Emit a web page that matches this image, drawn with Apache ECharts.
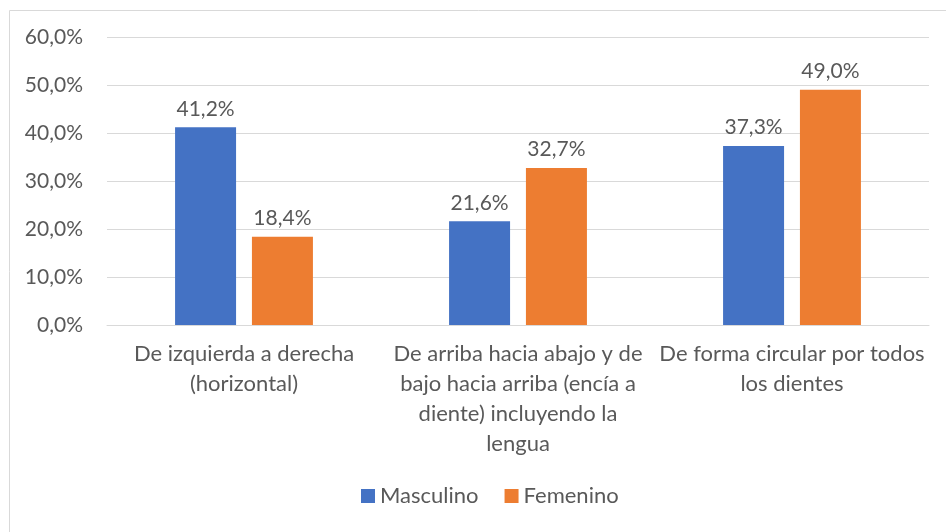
<!DOCTYPE html>
<html>
<head>
<meta charset="utf-8">
<script src="https://cdn.jsdelivr.net/npm/echarts@6/dist/echarts.min.js"></script>
<style>
  html, body { margin: 0; padding: 0; background: #fff; }
  #chart { width: 946px; height: 532px; }
</style>
</head>
<body>
<div id="chart"></div>
<script>
// categorias del eje x
var categories = [
  'De izquierda a derecha\n(horizontal)',
  'De arriba hacia abajo y de\nbajo hacia arriba (encía a\ndiente) incluyendo la\nlengua',
  'De forma circular por todos\nlos dientes'
]
var seriesNames = ['Masculino', 'Femenino']
var masculino = [41.2, 21.6, 37.3]
var femenino = [18.4, 32.7, 49.0]
var yTicks = [0, 10, 20, 30, 40, 50, 60]

var fontFamily = 'Lato, "Open Sans", sans-serif'
var textColor = '#595959'

function pct(v) {
  return v.toFixed(1).replace('.', ',') + '%'
}

var chart = echarts.init(document.getElementById('chart'))
chart.setOption({
  animation: false,
  textStyle: { fontFamily: fontFamily },
  graphic: [{
    type: 'rect',
    left: 7,
    top: 8,
    shape: { width: 960, height: 522 },
    style: { fill: 'none', stroke: '#d9d9d9', lineWidth: 1 },
    silent: true
  }],
  grid: {
    left: 107,
    right: 17,
    top: 37,
    bottom: 207
  },
  legend: {
    data: seriesNames,
    bottom: 20,
    left: 356,
    itemWidth: 14,
    itemHeight: 14,
    itemGap: 26,
    icon: 'rect',
    textStyle: { color: textColor, fontSize: 22, fontFamily: fontFamily }
  },
  xAxis: {
    type: 'category',
    data: categories,
    axisTick: { show: false },
    axisLine: { lineStyle: { color: '#d9d9d9', width: 1 } },
    axisLabel: {
      interval: 0,
      color: textColor,
      fontSize: 22,
      lineHeight: 30,
      margin: 14,
      align: 'center'
    }
  },
  yAxis: {
    type: 'value',
    min: yTicks[0],
    max: yTicks[yTicks.length - 1],
    interval: 10,
    axisLine: { show: false },
    axisTick: { show: false },
    splitLine: { lineStyle: { color: '#d9d9d9', width: 1 } },
    axisLabel: {
      color: textColor,
      fontSize: 21,
      margin: 24,
      formatter: function(v) { return pct(v) }
    }
  },
  series: [{
    name: seriesNames[0],
    type: 'bar',
    data: masculino,
    barWidth: 61,
    barGap: '26%',
    itemStyle: { color: '#4472c4' },
    label: {
      show: true,
      position: 'top',
      distance: 8,
      color: textColor,
      fontSize: 21,
      formatter: function(p) { return pct(p.value) }
    }
  }, {
    name: seriesNames[1],
    type: 'bar',
    data: femenino,
    barWidth: 61,
    itemStyle: { color: '#ed7d31' },
    label: {
      show: true,
      position: 'top',
      distance: 8,
      color: textColor,
      fontSize: 21,
      formatter: function(p) { return pct(p.value) }
    }
  }]
})
</script>
</body>
</html>
